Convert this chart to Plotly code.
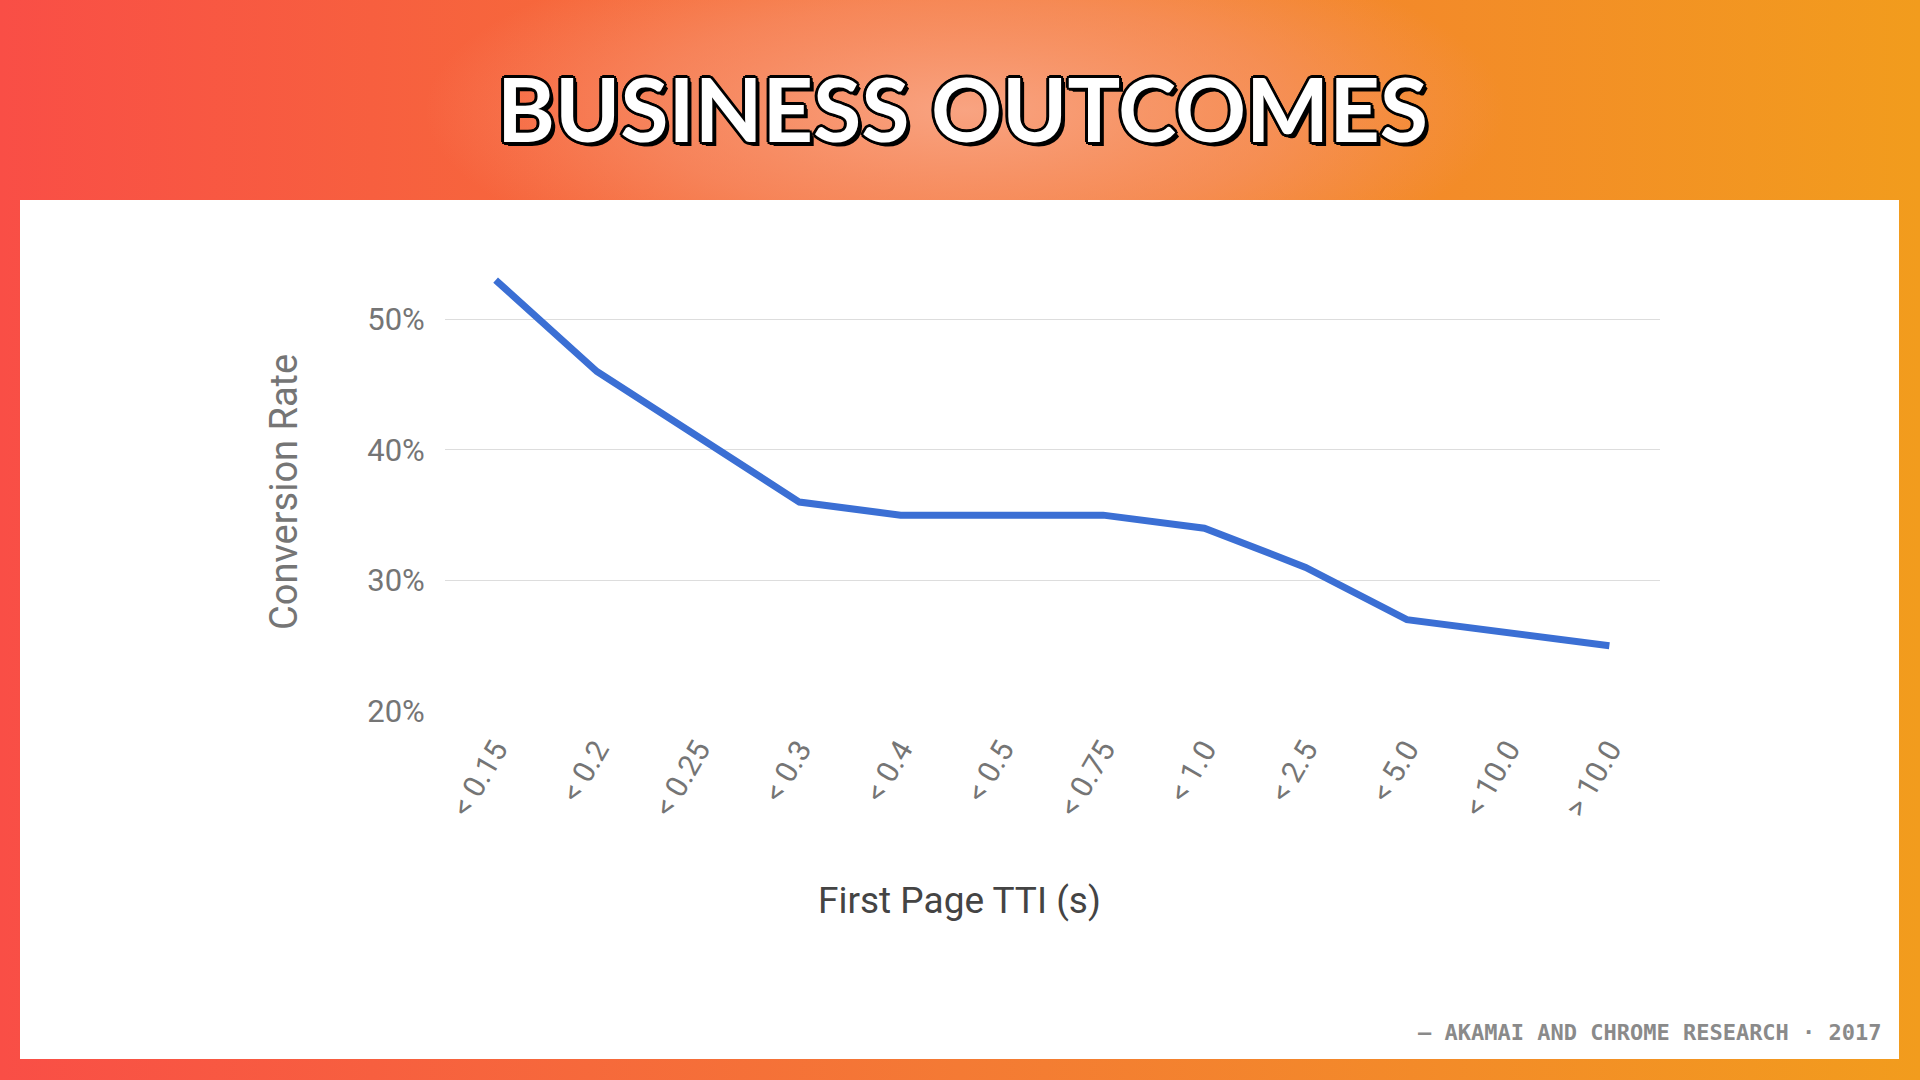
import base64
import plotly.graph_objects as go

# data
tti_buckets = ["< 0.15", "< 0.2", "< 0.25", "< 0.3", "< 0.4", "< 0.5",
               "< 0.75", "< 1.0", "< 2.5", "< 5.0", "< 10.0", "> 10.0"]
conversion_rate = [53, 46, 41, 36, 35, 35, 35, 34, 31, 27, 26, 25]
y_ticks = [20, 30, 40, 50]
y_tick_labels = [f"{v}%" for v in y_ticks]

W, H = 1920, 1080
# plot area in pixels
L, R, T, B = 445, 260, 254, 369
PW, PH = W - L - R, H - T - B


def px_x(x):
    return (x - L) / PW


def px_y(y):
    return (H - B - y) / PH


# background: orange gradient, soft glow behind the title, white card
svg = f"""<svg xmlns='http://www.w3.org/2000/svg' width='{W}' height='{H}'>
<defs>
<linearGradient id='g' x1='0' y1='0' x2='1' y2='0'>
<stop offset='0' stop-color='#F94E46'/>
<stop offset='0.5' stop-color='#F47A34'/>
<stop offset='1' stop-color='#F29C1D'/>
</linearGradient>
<radialGradient id='r' cx='0.5' cy='0.5' r='0.5'>
<stop offset='0' stop-color='#F9A88A' stop-opacity='0.9'/>
<stop offset='0.6' stop-color='#F8987A' stop-opacity='0.5'/>
<stop offset='1' stop-color='#F8987A' stop-opacity='0'/>
</radialGradient>
</defs>
<rect width='{W}' height='{H}' fill='url(#g)'/>
<ellipse cx='965' cy='110' rx='540' ry='180' fill='url(#r)'/>
<rect x='20' y='200' width='1879' height='859' fill='#FFFFFF'/>
</svg>"""
bg_src = "data:image/svg+xml;base64," + base64.b64encode(svg.encode()).decode()

fig = go.Figure()
fig.add_trace(go.Scatter(
    x=tti_buckets,
    y=conversion_rate,
    mode="lines",
    line=dict(color="#3B6FD4", width=7),
    showlegend=False,
))

outline = ", ".join(
    f"{dx}px {dy}px 0 #000"
    for dx, dy in [(-2, -2), (2, -2), (-2, 2), (2, 2), (0, 3), (3, 0),
                   (-3, 0), (0, -3), (3, 3), (4, 4)]
)

fig.update_layout(
    width=W,
    height=H,
    margin=dict(l=L, r=R, t=T, b=B, pad=0),
    paper_bgcolor="#FFFFFF",
    plot_bgcolor="rgba(0,0,0,0)",
    font=dict(family="Roboto", color="#757575"),
    images=[dict(
        source=bg_src, xref="paper", yref="paper",
        x=px_x(0), y=px_y(0), sizex=W / PW, sizey=H / PH,
        xanchor="left", yanchor="top", sizing="stretch", layer="below",
    )],
    xaxis=dict(
        type="category",
        range=[-0.5, len(tti_buckets) - 0.5],
        showgrid=False, zeroline=False, showline=False,
        tickangle=-60,
        tickfont=dict(family="Roboto", size=30, color="#757575"),
        ticks="outside", ticklen=8, tickcolor="rgba(0,0,0,0)",
    ),
    yaxis=dict(
        range=[20, 55],
        tickmode="array",
        tickvals=y_ticks,
        ticktext=y_tick_labels,
        showgrid=True, gridcolor="#DDDDDD", gridwidth=1.3,
        zeroline=False, showline=False,
        tickfont=dict(family="Roboto", size=31, color="#757575"),
        ticks="outside", ticklen=13, tickcolor="rgba(0,0,0,0)",
    ),
    annotations=[
        dict(text="Conversion Rate", xref="paper", yref="paper",
             x=px_x(284), y=px_y(492), textangle=-90, showarrow=False,
             xanchor="center", yanchor="middle",
             font=dict(family="Roboto", size=38, color="#757575")),
        dict(text="First Page TTI (s)", xref="paper", yref="paper",
             x=px_x(959), y=px_y(900), showarrow=False,
             xanchor="center", yanchor="middle",
             font=dict(family="Roboto", size=37, color="#444444")),
        dict(text="BUSINESS OUTCOMES", xref="paper", yref="paper",
             x=px_x(962), y=px_y(108), showarrow=False,
             xanchor="center", yanchor="middle",
             font=dict(family="Lato", size=88, weight=700, color="#FFFFFF",
                       shadow=outline)),
        dict(text="\u2014 AKAMAI AND CHROME RESEARCH \u00b7 2017", xref="paper",
             yref="paper", x=px_x(1884), y=px_y(1032), showarrow=False,
             xanchor="right", yanchor="middle",
             font=dict(family="DejaVu Sans Mono", size=22, weight=700,
                       color="#8A8A8A")),
    ],
)

fig.write_html("out.html", config={"displayModeBar": False},
               post_script="document.body.style.margin='0';")
